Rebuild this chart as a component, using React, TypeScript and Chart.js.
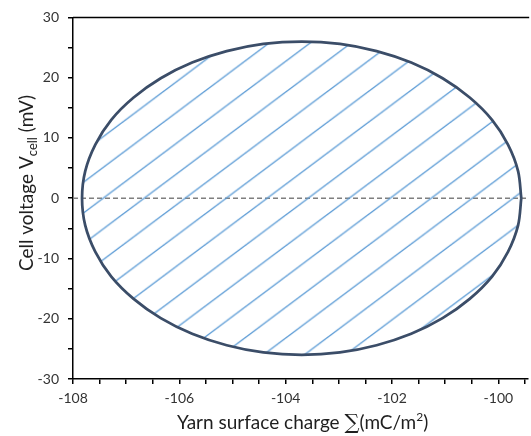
import React, { useEffect, useRef } from "react";
import { Chart, registerables } from "chart.js";

Chart.register(...registerables);

// Ellipse outline (Σ in mC/m², V in mV)
const loopSigma = [
  -99.57, -99.63, -99.82, -100.12, -100.54, -101.05, -101.64, -102.29, -102.98, -103.7,
  -104.42, -105.11, -105.76, -106.35, -106.86, -107.28, -107.58, -107.77, -107.83,
  -107.77, -107.58, -107.28, -106.86, -106.35, -105.76, -105.11, -104.42, -103.7,
  -102.98, -102.29, -101.64, -101.05, -100.54, -100.12, -99.82, -99.63, -99.57,
];
const loopVoltage = [
  0, 4.5, 8.9, 13.0, 16.7, 19.9, 22.5, 24.4, 25.6, 26.0,
  25.6, 24.4, 22.5, 19.9, 16.7, 13.0, 8.9, 4.5, 0,
  -4.5, -8.9, -13.0, -16.7, -19.9, -22.5, -24.4, -25.6, -26.0,
  -25.6, -24.4, -22.5, -19.9, -16.7, -13.0, -8.9, -4.5, 0,
];
const zeroSigma = [-108, -99.44];
const zeroVoltage = [0, 0];

const xMin = -108;
const xMax = -99.44;
const xTickValues = [-108, -107.5, -107, -106.5, -106, -105.5, -105, -104.5, -104, -103.5, -103, -102.5, -102, -101.5, -101, -100.5, -100, -99.5];
const xLabelValues = [-108, -106, -104, -102, -100];
const yTickValues = [-30, -25, -20, -15, -10, -5, 0, 5, 10, 15, 20, 25, 30];
const yLabelValues = [-30, -20, -10, 0, 10, 20, 30];

const FONT = "Lato";

type Seg = { t: string; size: number; dy?: number; family?: string };

function drawRich(ctx: CanvasRenderingContext2D, segs: Seg[], cx: number, baseline: number, color: string) {
  let total = 0;
  const widths: number[] = [];
  for (const s of segs) {
    ctx.font = `${s.size}px ${s.family || FONT}`;
    const w = ctx.measureText(s.t).width;
    widths.push(w);
    total += w;
  }
  let x = cx - total / 2;
  ctx.fillStyle = color;
  ctx.textBaseline = "alphabetic";
  ctx.textAlign = "left";
  segs.forEach((s, i) => {
    ctx.font = `${s.size}px ${s.family || FONT}`;
    ctx.fillText(s.t, x, baseline + (s.dy || 0));
    x += widths[i];
  });
}

const decorPlugin = {
  id: "decor",
  afterDraw(chart: any) {
    const { ctx, chartArea } = chart;
    ctx.save();
    // top frame line
    ctx.strokeStyle = "#000";
    ctx.lineWidth = 1.5;
    ctx.beginPath();
    ctx.moveTo(chartArea.left, chartArea.top);
    ctx.lineTo(chartArea.right + 1, chartArea.top);
    ctx.stroke();

    const color = "#1f1f1f";
    // x title
    drawRich(
      ctx,
      [
        { t: "Yarn surface charge ", size: 19 },
        { t: "∑", size: 21, family: "DejaVu Serif" },
        { t: "(mC/m", size: 19 },
        { t: "2", size: 12, dy: -8 },
        { t: ")", size: 19 },
      ],
      (chartArea.left + chartArea.right) / 2 + 2,
      429,
      color
    );
    // y title
    ctx.translate(33, 183);
    ctx.rotate(-Math.PI / 2);
    drawRich(
      ctx,
      [
        { t: "Cell voltage ", size: 19 },
        { t: "V", size: 19 },
        { t: "cell", size: 13, dy: 4 },
        { t: " (mV)", size: 19 },
      ],
      0,
      0,
      color
    );
    ctx.restore();
  },
};

function makeHatch(): CanvasPattern | string {
  const c = document.createElement("canvas");
  c.width = 40;
  c.height = 30;
  const g = c.getContext("2d");
  if (!g) return "rgba(91,155,213,0.3)";
  g.strokeStyle = "#5b9bd5";
  g.lineWidth = 1.3;
  for (let k = -1; k <= 1; k++) {
    g.beginPath();
    g.moveTo(-40 + 40 * k, 60);
    g.lineTo(80 + 40 * k, -30);
    g.stroke();
  }
  const p = g.createPattern(c, "repeat");
  if (!p) return "rgba(91,155,213,0.3)";
  try {
    p.setTransform(new DOMMatrix([1.025, 0, 0, 1.025, 0, -1.2]));
  } catch (e) {}
  return p;
}

export default function App() {
  const ref = useRef<HTMLCanvasElement | null>(null);

  useEffect(() => {
    document.body.style.margin = "0";
    const canvas = ref.current;
    if (!canvas) return;
    const hatch = makeHatch();

    const chart = new Chart(canvas, {
      type: "scatter",
      data: {
        datasets: [
          {
            label: "zero",
            data: zeroSigma.map((x, i) => ({ x, y: zeroVoltage[i] })),
            showLine: true,
            borderColor: "#7f7f7f",
            borderWidth: 1.5,
            borderDash: [5, 3],
            pointRadius: 0,
            fill: false,
            order: 2,
          },
          {
            label: "loop",
            data: loopSigma.map((x, i) => ({ x, y: loopVoltage[i] })),
            showLine: true,
            borderColor: "#3b4d68",
            borderWidth: 2.75,
            backgroundColor: hatch as any,
            fill: "shape",
            tension: 0.33,
            pointRadius: 0,
            order: 1,
          },
        ],
      },
      options: {
        responsive: false,
        maintainAspectRatio: false,
        animation: false,
        layout: { padding: { top: 12, right: 1, left: 0, bottom: 0 } },
        plugins: {
          legend: { display: false },
          tooltip: { enabled: false },
          title: { display: false },
        },
        scales: {
          x: {
            type: "linear",
            min: xMin,
            max: xMax,
            position: "bottom",
            afterBuildTicks: (s: any) => {
              s.ticks = xTickValues.map((v) => ({ value: v }));
            },
            afterFit: (s: any) => {
              s.height = 57;
            },
            ticks: {
              autoSkip: false,
              maxRotation: 0,
              padding: 6,
              color: "#333333",
              font: { family: FONT, size: 14 },
              callback: (v: any) => (xLabelValues.includes(Number(v)) ? String(v) : ""),
            },
            grid: { drawOnChartArea: false, drawTicks: true, tickLength: 5, color: "#000", lineWidth: 1.5 },
            border: { display: true, color: "#000", width: 1.5 },
          },
          y: {
            type: "linear",
            min: -30,
            max: 30,
            afterBuildTicks: (s: any) => {
              s.ticks = yTickValues.map((v) => ({ value: v }));
            },
            afterFit: (s: any) => {
              s.width = 73;
            },
            ticks: {
              autoSkip: false,
              padding: 9,
              color: "#333333",
              font: { family: FONT, size: 14 },
              callback: (v: any) => (yLabelValues.includes(Number(v)) ? String(v) : ""),
            },
            grid: { drawOnChartArea: false, drawTicks: true, tickLength: 5, color: "#000", lineWidth: 1.5 },
            border: { display: true, color: "#000", width: 1.5 },
          },
        },
      },
      plugins: [decorPlugin],
    });
    return () => chart.destroy();
  }, []);

  return (
    <div style={{ width: 531, height: 436 }}>
      <canvas ref={ref} width={531} height={436} />
    </div>
  );
}
